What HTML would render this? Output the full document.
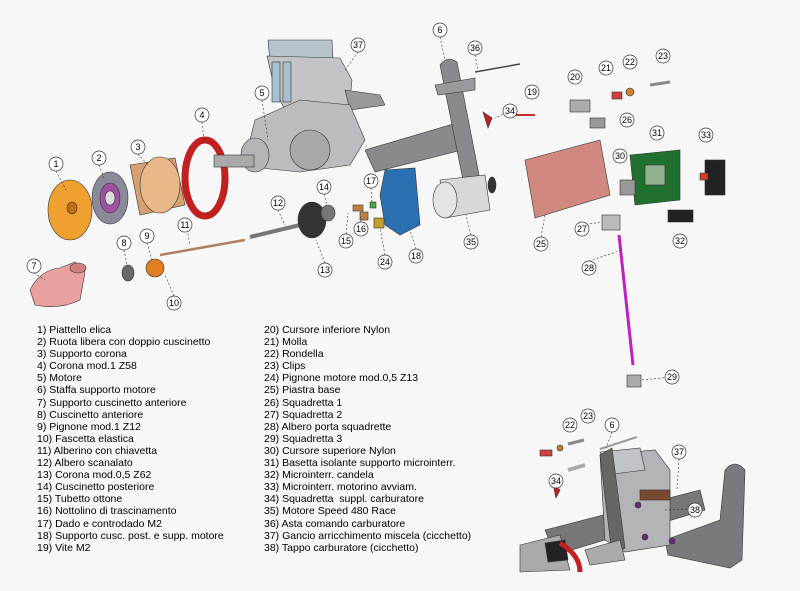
<!DOCTYPE html>
<html><head><style>
body{margin:0;width:800px;height:591px;background:#f7f7f7;overflow:hidden;position:relative;font-family:"Liberation Sans",sans-serif}
.leg{position:absolute;font-size:10.5px;line-height:12.1px;color:#000;white-space:pre}
svg{position:absolute;left:0;top:0}
</style></head><body>
<svg width="800" height="591" viewBox="0 0 800 591">
<g stroke="#333" stroke-width="0.6">
<ellipse cx="70" cy="210" rx="22" ry="30" fill="#f0a030"/>
<ellipse cx="72" cy="208" rx="5" ry="6" fill="#c07010"/>
<ellipse cx="110" cy="198" rx="18" ry="26" fill="#8a8a9a"/>
<ellipse cx="110" cy="198" rx="10" ry="15" fill="#a050a0"/>
<ellipse cx="110" cy="198" rx="5" ry="7" fill="#ddd"/>
<path d="M130 165 L175 158 L185 205 L140 215 Z" fill="#d8a070"/>
<ellipse cx="160" cy="185" rx="20" ry="28" fill="#e8b888"/>
<ellipse cx="205" cy="178" rx="20" ry="38" fill="none" stroke="#c02020" stroke-width="7"/>
<path d="M30 290 Q40 270 60 268 L75 262 L85 272 L80 300 Q60 310 35 305 Z" fill="#e8a0a0"/>
<ellipse cx="78" cy="268" rx="8" ry="5" fill="#d08080"/>
<ellipse cx="128" cy="273" rx="6" ry="8" fill="#666"/>
<circle cx="155" cy="268" r="9" fill="#e08020"/>
<line x1="160" y1="255" x2="245" y2="240" stroke="#b08060" stroke-width="2.5"/>
<line x1="250" y1="237" x2="300" y2="225" stroke="#777" stroke-width="4"/>
<path d="M365 150 L460 122 L470 130 L470 148 L375 172 Z" fill="#8a8a8e"/>
<path d="M440 65 Q447 55 457 62 L480 180 L465 190 Z" fill="#8a8a8e"/>
<path d="M435 85 L475 78 L475 90 L438 95 Z" fill="#9a9a9e"/>
<line x1="475" y1="72" x2="520" y2="64" stroke="#444" stroke-width="1.5"/>
<path d="M268 40 L332 40 L333 60 L270 62 Z" fill="#b8c4cc"/>
<path d="M267 56 L340 58 L352 80 L348 120 L290 120 L275 90 Z" fill="#c4c4c8"/>
<rect x="272" y="62" width="8" height="40" fill="#a8c0d0"/>
<rect x="283" y="62" width="8" height="40" fill="#a8c0d0"/>
<path d="M345 90 L380 95 L385 105 L350 110 Z" fill="#999"/>
<path d="M255 120 L300 100 L350 105 L365 140 L350 165 L300 172 L260 168 L250 140 Z" fill="#bcbcc0"/>
<ellipse cx="310" cy="150" rx="20" ry="20" fill="#a8a8ac"/>
<ellipse cx="255" cy="155" rx="14" ry="17" fill="#b4b4b8"/>
<rect x="214" y="155" width="40" height="12" fill="#aaa"/>
<ellipse cx="312" cy="220" rx="14" ry="18" fill="#333"/>
<ellipse cx="328" cy="213" rx="7" ry="8" fill="#777"/>
<path d="M385 170 L415 168 L420 225 L400 235 L385 225 L380 195 Z" fill="#2a70b0"/>
<path d="M440 180 L485 175 L490 210 L445 218 Z" fill="#d8d8d8"/>
<ellipse cx="445" cy="200" rx="12" ry="18" fill="#e4e4e4"/>
<ellipse cx="492" cy="185" rx="4" ry="8" fill="#333"/>
<path d="M525 160 L600 140 L610 195 L535 218 Z" fill="#d08880"/>
<path d="M630 155 L680 150 L680 200 L635 205 Z" fill="#207030"/>
<rect x="645" y="165" width="20" height="20" fill="#90b090"/>
<rect x="705" y="160" width="20" height="35" fill="#222"/>
<rect x="700" y="173" width="8" height="7" fill="#d04020"/>
<rect x="668" y="210" width="25" height="12" fill="#222"/>
<rect x="570" y="100" width="20" height="12" fill="#aaa"/>
<rect x="612" y="92" width="10" height="7" fill="#d04040"/>
<circle cx="630" cy="92" r="4" fill="#d08030"/>
<line x1="650" y1="85" x2="670" y2="82" stroke="#888" stroke-width="3"/>
<rect x="590" y="118" width="15" height="10" fill="#999"/>
<rect x="620" y="180" width="15" height="15" fill="#999"/>
<rect x="602" y="215" width="18" height="15" fill="#bbb"/>
<line x1="619" y1="235" x2="633" y2="365" stroke="#c020c0" stroke-width="3"/>
<rect x="627" y="375" width="14" height="12" fill="#aaa"/>
<path d="M483 112 L492 118 L488 128 Z" fill="#c02020"/>
<line x1="515" y1="115" x2="535" y2="115" stroke="#c03030" stroke-width="2"/>
<rect x="353" y="205" width="10" height="6" fill="#c08040"/>
<rect x="360" y="212" width="8" height="8" fill="#c08040"/>
<rect x="370" y="202" width="6" height="6" fill="#4a4"/>
<rect x="374" y="218" width="10" height="10" fill="#c0a030"/>
<!-- bottom right mini assembly -->
<path d="M545 530 L700 490 L705 510 L555 555 Z" fill="#777"/>
<path d="M665 540 L720 520 L725 470 Q735 458 745 470 L742 560 L730 568 L668 555 Z" fill="#7a7a7e"/>
<path d="M600 455 L655 450 L670 470 L670 545 L625 552 L605 540 Z" fill="#b4b4b8"/>
<path d="M600 452 L640 448 L645 470 L605 475 Z" fill="#c0c4c8"/>
<path d="M600 455 L612 448 L625 548 L612 555 Z" fill="#666"/>
<path d="M520 545 L560 535 L570 570 L520 572 Z" fill="#aaa"/>
<path d="M545 543 L565 540 L568 560 L548 562 Z" fill="#222"/>
<path d="M560 543 Q580 555 580 572" fill="none" stroke="#c02020" stroke-width="5"/>
<path d="M585 550 L620 540 L625 560 L590 565 Z" fill="#aaa"/>
<rect x="640" y="490" width="30" height="10" fill="#7a4a30"/>
<circle cx="638" cy="505" r="3" fill="#6a2a7a"/><circle cx="645" cy="537" r="3" fill="#6a2a7a"/><circle cx="672" cy="541" r="3" fill="#6a2a7a"/>
<path d="M553 484 L560 490 L556 498 Z" fill="#c02020"/>
<rect x="540" y="450" width="12" height="6" fill="#d04040"/>
<circle cx="560" cy="448" r="3" fill="#c08030"/>
<line x1="568" y1="444" x2="584" y2="440" stroke="#888" stroke-width="3"/>
<line x1="568" y1="470" x2="585" y2="465" stroke="#aaa" stroke-width="4"/>
<line x1="600" y1="449" x2="637" y2="437" stroke="#999" stroke-width="2"/>
</g>
<g stroke="#333" stroke-width="0.6" stroke-dasharray="2,2" fill="none">
<path d="M56 171 L66 190 M99 165 L105 180 M138 154 L148 165 M202 122 L204 140 M262 100 L268 140 M358 52 L345 70 M440 37 L445 60 M475 55 L478 70 M34 273 L45 280 M124 250 L127 265 M147 243 L152 260 M174 296 L165 275 M185 218 L190 245 M278 210 L285 225 M325 263 L316 240 M324 194 L327 205 M346 234 L348 213 M361 222 L360 215 M371 188 L372 202 M385 255 L380 228 M416 249 L410 230 M471 235 L466 215 M510 111 L495 118 M541 237 L545 215 M582 225 L602 222 M589 261 L622 250 M672 377 L641 380 M679 459 L677 490 M687 509 L665 510 M612 432 L606 448"/>
</g>
<g font-family="Liberation Sans" font-size="9" text-anchor="middle" fill="#000">
<g fill="#fff" stroke="#333" stroke-width="0.7">
<circle cx="56" cy="164" r="7"/><circle cx="99" cy="158" r="7"/><circle cx="138" cy="147" r="7"/><circle cx="202" cy="115" r="7"/>
<circle cx="262" cy="93" r="7"/><circle cx="358" cy="45" r="7"/><circle cx="440" cy="30" r="7"/><circle cx="475" cy="48" r="7"/>
<circle cx="34" cy="266" r="7"/><circle cx="124" cy="243" r="7"/><circle cx="147" cy="236" r="7"/><circle cx="174" cy="303" r="7"/>
<circle cx="185" cy="225" r="7"/><circle cx="278" cy="203" r="7"/><circle cx="325" cy="270" r="7"/><circle cx="324" cy="187" r="7"/>
<circle cx="346" cy="241" r="7"/><circle cx="361" cy="229" r="7"/><circle cx="371" cy="181" r="7"/><circle cx="385" cy="262" r="7"/>
<circle cx="416" cy="256" r="7"/><circle cx="471" cy="242" r="7"/><circle cx="510" cy="111" r="7"/><circle cx="532" cy="92" r="7"/>
<circle cx="575" cy="77" r="7"/><circle cx="606" cy="68" r="7"/><circle cx="630" cy="62" r="7"/><circle cx="663" cy="56" r="7"/>
<circle cx="627" cy="120" r="7"/><circle cx="620" cy="156" r="7"/><circle cx="657" cy="133" r="7"/><circle cx="706" cy="135" r="7"/>
<circle cx="680" cy="241" r="7"/><circle cx="582" cy="229" r="7"/><circle cx="541" cy="244" r="7"/><circle cx="589" cy="268" r="7"/>
<circle cx="672" cy="377" r="7"/><circle cx="679" cy="452" r="7"/><circle cx="695" cy="510" r="7"/><circle cx="556" cy="481" r="7"/>
<circle cx="570" cy="425" r="7"/><circle cx="588" cy="416" r="7"/><circle cx="612" cy="425" r="7"/>
</g>
<text x="56" y="167">1</text><text x="99" y="161">2</text><text x="138" y="150">3</text><text x="202" y="118">4</text>
<text x="262" y="96">5</text><text x="358" y="48">37</text><text x="440" y="33">6</text><text x="475" y="51">36</text>
<text x="34" y="269">7</text><text x="124" y="246">8</text><text x="147" y="239">9</text><text x="174" y="306">10</text>
<text x="185" y="228">11</text><text x="278" y="206">12</text><text x="325" y="273">13</text><text x="324" y="190">14</text>
<text x="346" y="244">15</text><text x="361" y="232">16</text><text x="371" y="184">17</text><text x="385" y="265">24</text>
<text x="416" y="259">18</text><text x="471" y="245">35</text><text x="510" y="114">34</text><text x="532" y="95">19</text>
<text x="575" y="80">20</text><text x="606" y="71">21</text><text x="630" y="65">22</text><text x="663" y="59">23</text>
<text x="627" y="123">26</text><text x="620" y="159">30</text><text x="657" y="136">31</text><text x="706" y="138">33</text>
<text x="680" y="244">32</text><text x="582" y="232">27</text><text x="541" y="247">25</text><text x="589" y="271">28</text>
<text x="672" y="380">29</text><text x="679" y="455">37</text><text x="695" y="513">38</text><text x="556" y="484">34</text>
<text x="570" y="428">22</text><text x="588" y="419">23</text><text x="612" y="428">6</text>
</g>
</svg>
<div class="leg" style="left:37px;top:324px">1) Piattello elica
2) Ruota libera con doppio cuscinetto
3) Supporto corona
4) Corona mod.1 Z58
5) Motore
6) Staffa supporto motore
7) Supporto cuscinetto anteriore
8) Cuscinetto anteriore
9) Pignone mod.1 Z12
10) Fascetta elastica
11) Alberino con chiavetta
12) Albero scanalato
13) Corona mod.0,5 Z62
14) Cuscinetto posteriore
15) Tubetto ottone
16) Nottolino di trascinamento
17) Dado e controdado M2
18) Supporto cusc. post. e supp. motore
19) Vite M2</div>
<div class="leg" style="left:264px;top:324px">20) Cursore inferiore Nylon
21) Molla
22) Rondella
23) Clips
24) Pignone motore mod.0,5 Z13
25) Piastra base
26) Squadretta 1
27) Squadretta 2
28) Albero porta squadrette
29) Squadretta 3
30) Cursore superiore Nylon
31) Basetta isolante supporto microinterr.
32) Microinterr. candela
33) Microinterr. motorino avviam.
34) Squadretta  suppl. carburatore
35) Motore Speed 480 Race
36) Asta comando carburatore
37) Gancio arricchimento miscela (cicchetto)
38) Tappo carburatore (cicchetto)</div>
</body></html>
